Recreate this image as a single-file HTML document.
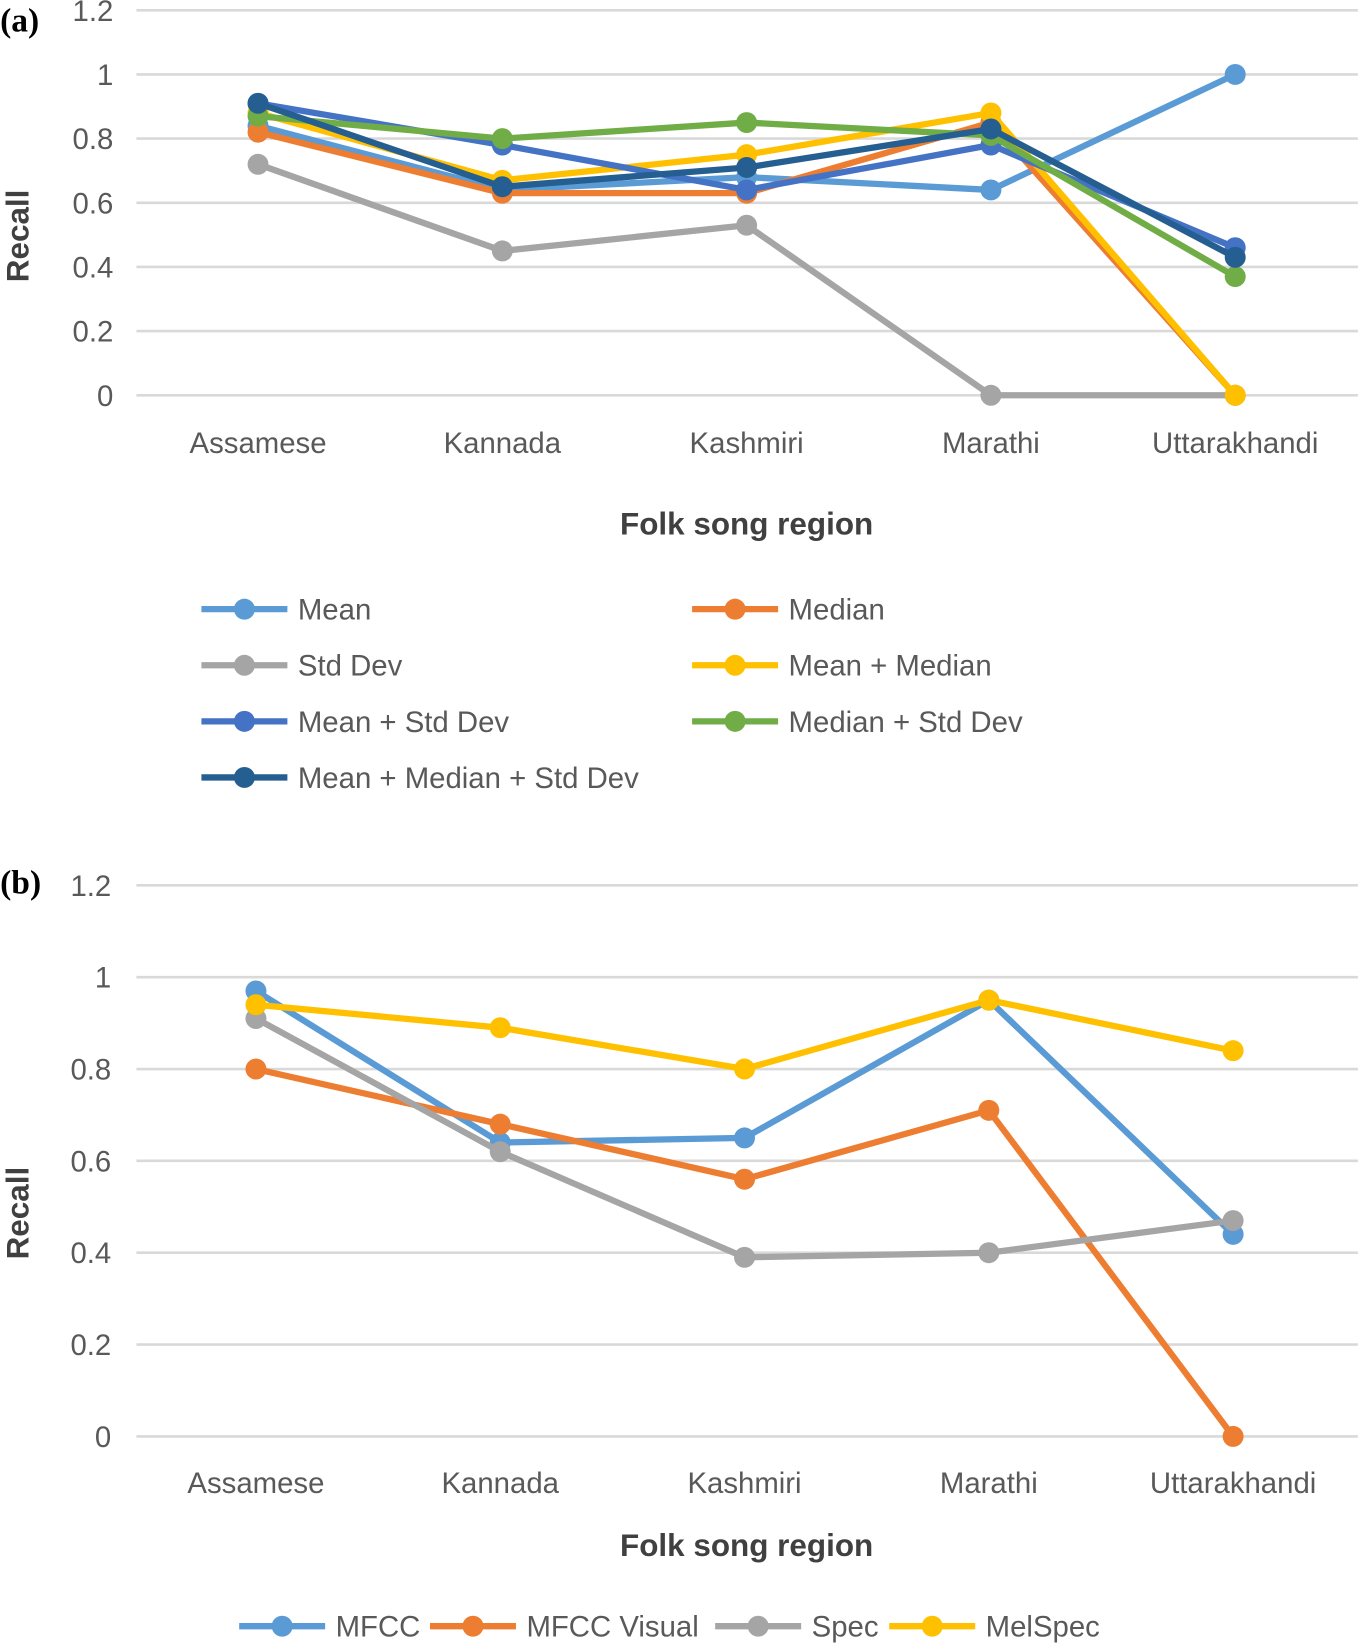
<!DOCTYPE html>
<html><head><meta charset="utf-8"><style>
html,body{margin:0;padding:0;background:#fff;}
svg{display:block;}
text{font-family:"Liberation Sans",sans-serif;}
</style></head><body>
<svg id="svg" width="1358" height="1644" viewBox="0 0 1295 1568" xmlns="http://www.w3.org/2000/svg">
<g id="ca"></g>
<g id="cb"></g>
</svg>
<script>
const categories=["Assamese","Kannada","Kashmiri","Marathi","Uttarakhandi"];
const yTicks=[0,0.2,0.4,0.6,0.8,1,1.2];
const yTickLabels=["0","0.2","0.4","0.6","0.8","1","1.2"];
const namesA=["Mean","Median","Std Dev","Mean + Median","Mean + Std Dev","Median + Std Dev","Mean + Median + Std Dev"];
const meanA=[0.84,0.64,0.68,0.64,1.0];
const medianA=[0.82,0.63,0.63,0.85,0.0];
const stdA=[0.72,0.45,0.53,0,0];
const meanMedianA=[0.88,0.67,0.75,0.88,0.0];
const meanStdA=[0.91,0.78,0.64,0.78,0.46];
const medianStdA=[0.87,0.80,0.85,0.81,0.37];
const allA=[0.91,0.65,0.71,0.83,0.43];
const namesB=["MFCC","MFCC Visual","Spec","MelSpec"];
const mfccB=[0.97,0.64,0.65,0.95,0.44];
const mfccVisB=[0.80,0.68,0.56,0.71,0.0];
const specB=[0.91,0.62,0.39,0.40,0.47];
const melB=[0.94,0.89,0.80,0.95,0.84];

const colA=["#5b9bd5","#ed7d31","#a5a5a5","#ffc000","#4472c4","#70ad47","#255e91"];
const colB=["#5b9bd5","#ed7d31","#a5a5a5","#ffc000"];
const NS="http://www.w3.org/2000/svg";
function mk(parent,tag,attrs,txt){const e=document.createElementNS(NS,tag);for(const k in attrs)e.setAttribute(k,attrs[k]);if(txt!==undefined)e.textContent=txt;parent.appendChild(e);return e;}

function drawChart(g,cfg,series,names,cols){
  const y=v=>cfg.y0-v*cfg.unit;
  const x=i=>cfg.x0+i*cfg.dx;
  yTicks.forEach((t,i)=>{
    const l=mk(g,"line",{x1:cfg.gx,x2:1295,y1:y(t),y2:y(t),stroke:"#d9d9d9","stroke-width":2.5});
    
    
    const tx=mk(g,"text",{x:cfg.tickX,y:y(t)+10,"text-anchor":"end","font-size":28,fill:"#595959"},yTickLabels[i]);
    
    
  });
  categories.forEach((c,i)=>{
    const tx=mk(g,"text",{x:x(i),y:cfg.catY,"text-anchor":"middle","font-size":28,fill:"#595959"},c);
    
    
  });
  const tt=mk(g,"text",{x:712,y:cfg.titleY,"text-anchor":"middle","font-size":30,"font-weight":"bold",fill:"#404040"},"Folk song region");
  
  
  const yt=mk(g,"text",{x:0,y:0,transform:`translate(27,${cfg.recallY}) rotate(-90)`,"text-anchor":"middle","font-size":30,"font-weight":"bold",fill:"#404040"},"Recall");
  
  
  const pl=mk(g,"text",{x:0,y:cfg.panelY,style:'font-family:"Liberation Serif",serif;font-size:32px;font-weight:bold',fill:"#000"},cfg.panel);
  
  
  series.forEach((s,si)=>{
    const sg=mk(g,"g",{});
    
    
    const pts=s.map((v,i)=>x(i)+","+y(v)).join(" ");
    mk(sg,"polyline",{points:pts,fill:"none",stroke:cols[si],"stroke-width":6,"stroke-linejoin":"round"});
    s.forEach((v,i)=>{
      const c=mk(sg,"circle",{cx:x(i),cy:y(v),r:10,fill:cols[si]});
      
      
    });
  });
}
function legendEntry(g,lx,ly,name,col,lineLen){
  const e=mk(g,"g",{});
  
  
  mk(e,"line",{x1:lx,x2:lx+lineLen,y1:ly,y2:ly,stroke:col,"stroke-width":6});
  mk(e,"circle",{cx:lx+lineLen/2,cy:ly,r:10,fill:col});
  mk(e,"text",{x:lx+lineLen+10,y:ly+10,"font-size":28,fill:"#595959"},name);
}
const ga=document.getElementById("ca"), gb=document.getElementById("cb");
drawChart(ga,{y0:377,unit:306,x0:246,dx:233,gx:130,tickX:108,catY:432,titleY:510,recallY:225,panel:"(a)",panelY:30},
  [meanA,medianA,stdA,meanMedianA,meanStdA,medianStdA,allA],namesA,colA);
drawChart(gb,{y0:1370,unit:438,x0:244,dx:233,gx:130,tickX:106,catY:1424,titleY:1484,recallY:1157,panel:"(b)",panelY:852},
  [mfccB,mfccVisB,specB,melB],namesB,colB);
const legA=mk(ga,"g",{});


namesA.forEach((n,i)=>{
  const col=i%2, row=Math.floor(i/2);
  legendEntry(legA,col?660:192,581+row*53.5,n,colA[i],82);
});
const legB=mk(gb,"g",{});


const lbx=[228,410,682,848];
namesB.forEach((n,i)=>legendEntry(legB,lbx[i],1551,n,colB[i],82));
</script>
</body></html>
